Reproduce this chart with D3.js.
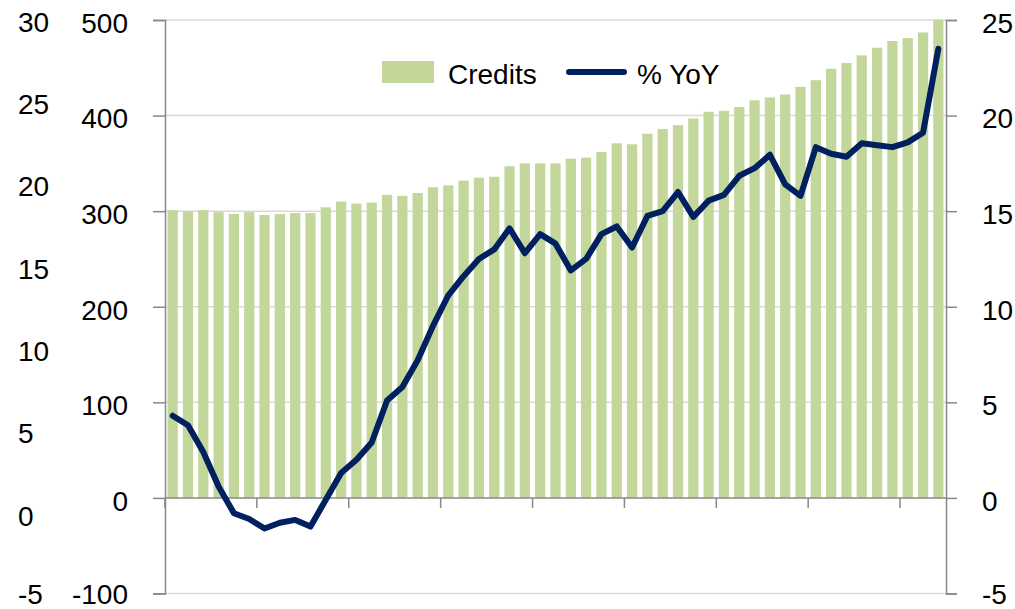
<!DOCTYPE html>
<html>
<head>
<meta charset="utf-8">
<script src="https://cdn.jsdelivr.net/npm/d3@7"></script>
<style>
  body { margin: 0; background: #fff; }
  text { font-family: "Liberation Sans", Arial, sans-serif; fill: #000; }
</style>
</head>
<body>
<div id="chart"></div>
<script>
// monthly observations, no labels shown on the x axis
const categories = [1, 2, 3, 4, 5, 6, 7, 8, 9, 10, 11, 12, 13, 14, 15, 16, 17, 18, 19, 20,
    21, 22, 23, 24, 25, 26, 27, 28, 29, 30, 31, 32, 33, 34, 35, 36, 37, 38, 39, 40,
    41, 42, 43, 44, 45, 46, 47, 48, 49, 50, 51]

const credits = [301, 300, 301, 299, 297, 299, 296, 297, 298, 298,
    304, 310, 308, 309, 317, 316, 319, 325, 327, 332,
    335, 336, 347, 350, 350, 350, 355, 356, 362, 371,
    370, 381, 386, 390, 397, 404, 405, 409, 416, 419,
    422, 430, 437, 449, 455, 463, 471, 478, 481, 487, 500]

const yoy = [4.3, 3.8, 2.4, 0.6, -0.8, -1.1, -1.6, -1.3, -1.15, -1.5,
    -0.1, 1.3, 2.0, 2.9, 5.1, 5.8, 7.2, 9.0, 10.6, 11.6,
    12.5, 13.0, 14.1, 12.8, 13.8, 13.3, 11.9, 12.5, 13.8, 14.2,
    13.1, 14.75, 15.0, 16.0, 14.7, 15.55, 15.85, 16.85, 17.25, 17.95,
    16.4, 15.8, 18.35, 18.0, 17.85, 18.55, 18.45, 18.35, 18.6, 19.1, 23.5]

const leftTicks = [-100, 0, 100, 200, 300, 400, 500]
const rightTicks = [-5, 0, 5, 10, 15, 20, 25]
const outerLabels = [-5, 0, 5, 10, 15, 20, 25, 30]

const width = 1015
const height = 609
const plot = {left: 165, right: 946, top: 20, bottom: 593.5}
const green = "#c4d79b", navy = "#002060"
const gridColor = "#d9d9d9", axisColor = "#888888"
const fontSize = 28
const maxLabelY = 594 // keep the lowest labels inside the picture

const svg = d3.select("#chart").append("svg")
    .attr("width", width)
    .attr("height", height)

const x = d3.scaleBand().domain(categories).range([plot.left, plot.right])
    .paddingInner(0.33).paddingOuter(0.165)
const yLeft = d3.scaleLinear().domain([-100, 500]).range([plot.bottom, plot.top])
const yRight = d3.scaleLinear().domain([-5, 25]).range([plot.bottom, plot.top])
const yOuter = d3.scaleLinear().domain([-5, 30]).range([598, 22])

// gridlines
svg.append("g")
    .selectAll("line")
    .data(leftTicks.filter(d => d !== 0))
    .join("line")
    .attr("x1", plot.left).attr("x2", plot.right)
    .attr("y1", d => yLeft(d)).attr("y2", d => yLeft(d))
    .attr("stroke", gridColor)
    .attr("stroke-width", 1.5)

// bars
svg.append("g")
    .selectAll("rect")
    .data(categories)
    .join("rect")
    .attr("x", d => x(d))
    .attr("width", x.bandwidth())
    .attr("y", (d, i) => yLeft(credits[i]))
    .attr("height", (d, i) => yLeft(0) - yLeft(credits[i]))
    .attr("fill", green)

// zero axis with category ticks
const step = x.step()
const tickIdx = categories.map((d, i) => i).filter(i => i % 6 === 0)
svg.append("line")
    .attr("x1", plot.left).attr("x2", plot.right)
    .attr("y1", yLeft(0)).attr("y2", yLeft(0))
    .attr("stroke", axisColor).attr("stroke-width", 1.5)
svg.append("g")
    .selectAll("line")
    .data(tickIdx)
    .join("line")
    .attr("x1", i => plot.left + step * i).attr("x2", i => plot.left + step * i)
    .attr("y1", yLeft(0)).attr("y2", yLeft(0) + 10)
    .attr("stroke", axisColor).attr("stroke-width", 1.5)

// left axis
const gl = svg.append("g").attr("transform", `translate(${plot.left},0)`)
    .call(d3.axisLeft(yLeft).tickValues(leftTicks).tickSize(12).tickFormat(""))
gl.select(".domain").attr("stroke", axisColor).attr("stroke-width", 1.5)
gl.selectAll(".tick line").attr("stroke", axisColor).attr("stroke-width", 1.5)

svg.append("g")
    .selectAll("text")
    .data(leftTicks)
    .join("text")
    .attr("x", 128)
    .attr("y", d => Math.min(yLeft(d) + 3, maxLabelY))
    .attr("dy", "0.35em")
    .attr("text-anchor", "end")
    .style("font-size", fontSize + "px")
    .text(d => d)

// outer left labels
svg.append("g")
    .selectAll("text")
    .data(outerLabels)
    .join("text")
    .attr("x", 18)
    .attr("y", d => Math.min(yOuter(d), maxLabelY))
    .attr("dy", "0.35em")
    .style("font-size", fontSize + "px")
    .text(d => d)

// right axis
const gr = svg.append("g").attr("transform", `translate(${plot.right},0)`)
    .call(d3.axisRight(yRight).tickValues(rightTicks).tickSize(11).tickFormat(""))
gr.select(".domain").attr("stroke", axisColor).attr("stroke-width", 1.5)
gr.selectAll(".tick line").attr("stroke", axisColor).attr("stroke-width", 1.5)

svg.append("g")
    .selectAll("text")
    .data(rightTicks)
    .join("text")
    .attr("x", 982)
    .attr("y", d => Math.min(yRight(d) + 3, maxLabelY))
    .attr("dy", "0.35em")
    .style("font-size", fontSize + "px")
    .text(d => d)

// yoy line
const line = d3.line()
    .x((d, i) => x(categories[i]) + x.bandwidth() / 2)
    .y(d => yRight(d))
svg.append("path")
    .datum(yoy)
    .attr("d", line)
    .attr("fill", "none")
    .attr("stroke", navy)
    .attr("stroke-width", 6)
    .attr("stroke-linejoin", "round")
    .attr("stroke-linecap", "round")

// legend
const lg = svg.append("g")
lg.append("rect")
    .attr("x", 382).attr("y", 61)
    .attr("width", 52).attr("height", 22)
    .attr("fill", green)
lg.append("text")
    .attr("x", 448).attr("y", 84)
    .style("font-size", fontSize + "px")
    .text("Credits")
lg.append("line")
    .attr("x1", 569).attr("x2", 624)
    .attr("y1", 72).attr("y2", 72)
    .attr("stroke", navy).attr("stroke-width", 6)
    .attr("stroke-linecap", "round")
lg.append("text")
    .attr("x", 637).attr("y", 84)
    .style("font-size", fontSize + "px")
    .text("% YoY")
</script>
</body>
</html>
